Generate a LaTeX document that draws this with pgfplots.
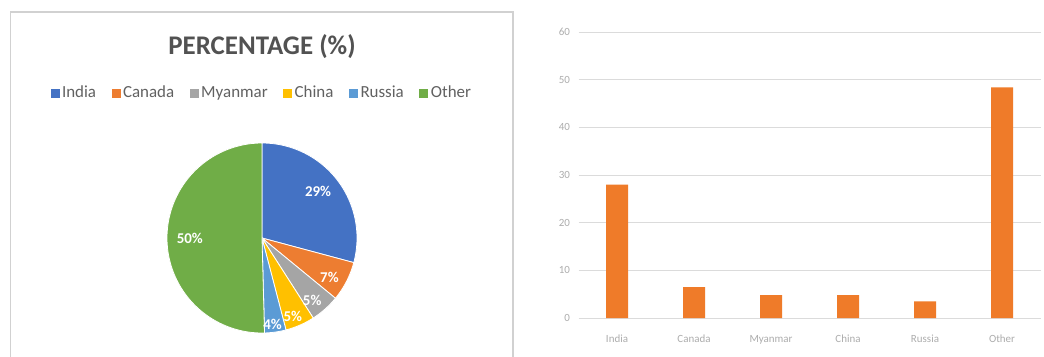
\documentclass[border=0pt]{standalone}
\usepackage{pgfplots}
\pgfplotsset{compat=1.18}
\usepackage{pgfplotstable}
\usepackage{fontspec}
\setmainfont{Carlito}

\definecolor{cIndia}{HTML}{4472C4}
\definecolor{cCanada}{HTML}{ED7D31}
\definecolor{cMyan}{HTML}{A5A5A5}
\definecolor{cChina}{HTML}{FFC000}
\definecolor{cRussia}{HTML}{5B9BD5}
\definecolor{cOther}{HTML}{70AD47}
\definecolor{barOrange}{HTML}{EF7B29}

\pgfplotstableread{
x name value
0 India 28
1 Canada 6.5
2 Myanmar 4.8
3 China 4.8
4 Russia 3.5
5 Other 48.4
}\datatable

% pie angles (clockwise from 12 o'clock), computed from the values
\pgfplotstablegetelem{0}{value}\of\datatable \let\vA\pgfplotsretval
\pgfplotstablegetelem{1}{value}\of\datatable \let\vB\pgfplotsretval
\pgfplotstablegetelem{2}{value}\of\datatable \let\vC\pgfplotsretval
\pgfplotstablegetelem{3}{value}\of\datatable \let\vD\pgfplotsretval
\pgfplotstablegetelem{4}{value}\of\datatable \let\vE\pgfplotsretval
\pgfplotstablegetelem{5}{value}\of\datatable \let\vF\pgfplotsretval
\pgfmathsetmacro\tot{\vA+\vB+\vC+\vD+\vE+\vF}
\pgfmathsetmacro\aA{90}
\pgfmathsetmacro\aB{\aA-360*(\vA/\tot)}
\pgfmathsetmacro\aC{\aB-360*(\vB/\tot)}
\pgfmathsetmacro\aD{\aC-360*(\vC/\tot)}
\pgfmathsetmacro\aE{\aD-360*(\vD/\tot)}
\pgfmathsetmacro\aF{\aE-360*(\vE/\tot)}
\pgfmathsetmacro\aG{\aF-360*(\vF/\tot)}

\begin{document}
\begin{tikzpicture}[x=1bp,y=1bp]
\useasboundingbox (0,0) rectangle (1044,356);
\fill[white] (0,0) rectangle (1044,356);
\draw[black!18, line width=1.2bp] (10.5,-5) -- (10.5,344) -- (513,344) -- (513,-5);
\node[font=\fontsize{27}{32}\selectfont\bfseries, text=black!68] at (262,309) {PERCENTAGE (\%)};

\begin{axis}[
  at={(262bp,118bp)}, anchor=center,
  scale only axis, width=190bp, height=190bp,
  xmin=-1, xmax=1, ymin=-1, ymax=1,
  hide axis, clip=false,
  legend columns=6,
  legend image code/.code={\fill[#1,draw=none] (0bp,-4.5bp) rectangle (9bp,4.5bp);},
  legend style={draw=none, fill=none, at={(0.5,1.263)}, anchor=center,
    font=\fontsize{17}{20}\selectfont, text=black!62,
    /tikz/every even column/.append style={column sep=13bp},
    /tikz/every odd column/.append style={column sep=0bp},
    nodes={inner xsep=2.5bp, text height=12bp, text depth=4bp}},
]
\addplot[fill=cIndia, draw=white, line width=0.8bp, domain=\aB:\aA, samples=80, variable=\t] ({cos(\t)},{sin(\t)}) -- (axis cs:0,0) -- cycle;
\addlegendentry{India}
\addplot[fill=cCanada, draw=white, line width=0.8bp, domain=\aC:\aB, samples=30, variable=\t] ({cos(\t)},{sin(\t)}) -- (axis cs:0,0) -- cycle;
\addlegendentry{Canada}
\addplot[fill=cMyan, draw=white, line width=0.8bp, domain=\aD:\aC, samples=30, variable=\t] ({cos(\t)},{sin(\t)}) -- (axis cs:0,0) -- cycle;
\addlegendentry{Myanmar}
\addplot[fill=cChina, draw=white, line width=0.8bp, domain=\aE:\aD, samples=30, variable=\t] ({cos(\t)},{sin(\t)}) -- (axis cs:0,0) -- cycle;
\addlegendentry{China}
\addplot[fill=cRussia, draw=white, line width=0.8bp, domain=\aF:\aE, samples=30, variable=\t] ({cos(\t)},{sin(\t)}) -- (axis cs:0,0) -- cycle;
\addlegendentry{Russia}
\addplot[fill=cOther, draw=white, line width=0.8bp, domain=\aG:\aF, samples=120, variable=\t] ({cos(\t)},{sin(\t)}) -- (axis cs:0,0) -- cycle;
\addlegendentry{Other}

\begin{scope}[every node/.style={font=\fontsize{15}{18}\selectfont\bfseries, text=white, inner sep=0pt}]
\node at (axis cs:{0.77*cos(40)},{0.77*sin(40)}) {29\%};
\node at (axis cs:{0.82*cos(-30)},{0.82*sin(-30)}) {7\%};
\node at (axis cs:{0.84*cos(-51)},{0.84*sin(-51)}) {5\%};
\node at (axis cs:{0.89*cos(-68.6)},{0.89*sin(-68.6)}) {5\%};
\node at (axis cs:{0.92*cos(-83)},{0.92*sin(-83)}) {4\%};
\node at (axis cs:{0.76*cos(180)},{0.76*sin(180)}) {50\%};
\end{scope}
\end{axis}

\begin{axis}[
  at={(578.5bp,38bp)}, anchor=south west,
  scale only axis, width=462bp, height=286bp,
  xmin=-0.5, xmax=5.5, ymin=0, ymax=60,
  ytick={0,10,...,60},
  xtick=data,
  xticklabels from table={\datatable}{name},
  ymajorgrids, grid style={black!14, line width=0.7bp},
  axis line style={draw=none},
  major tick style={draw=none},
  tick label style={font=\fontsize{11}{13}\selectfont, text=black!32},
  yticklabel style={xshift=-5bp},
  xticklabel style={yshift=-13bp, text height=8bp, text depth=3bp},
  /pgf/number format/assume math mode=true,
]
\addplot[ybar, bar width=22bp, fill=barOrange, draw=none] table[x=x, y=value]{\datatable};
\end{axis}
\end{tikzpicture}
\end{document}
